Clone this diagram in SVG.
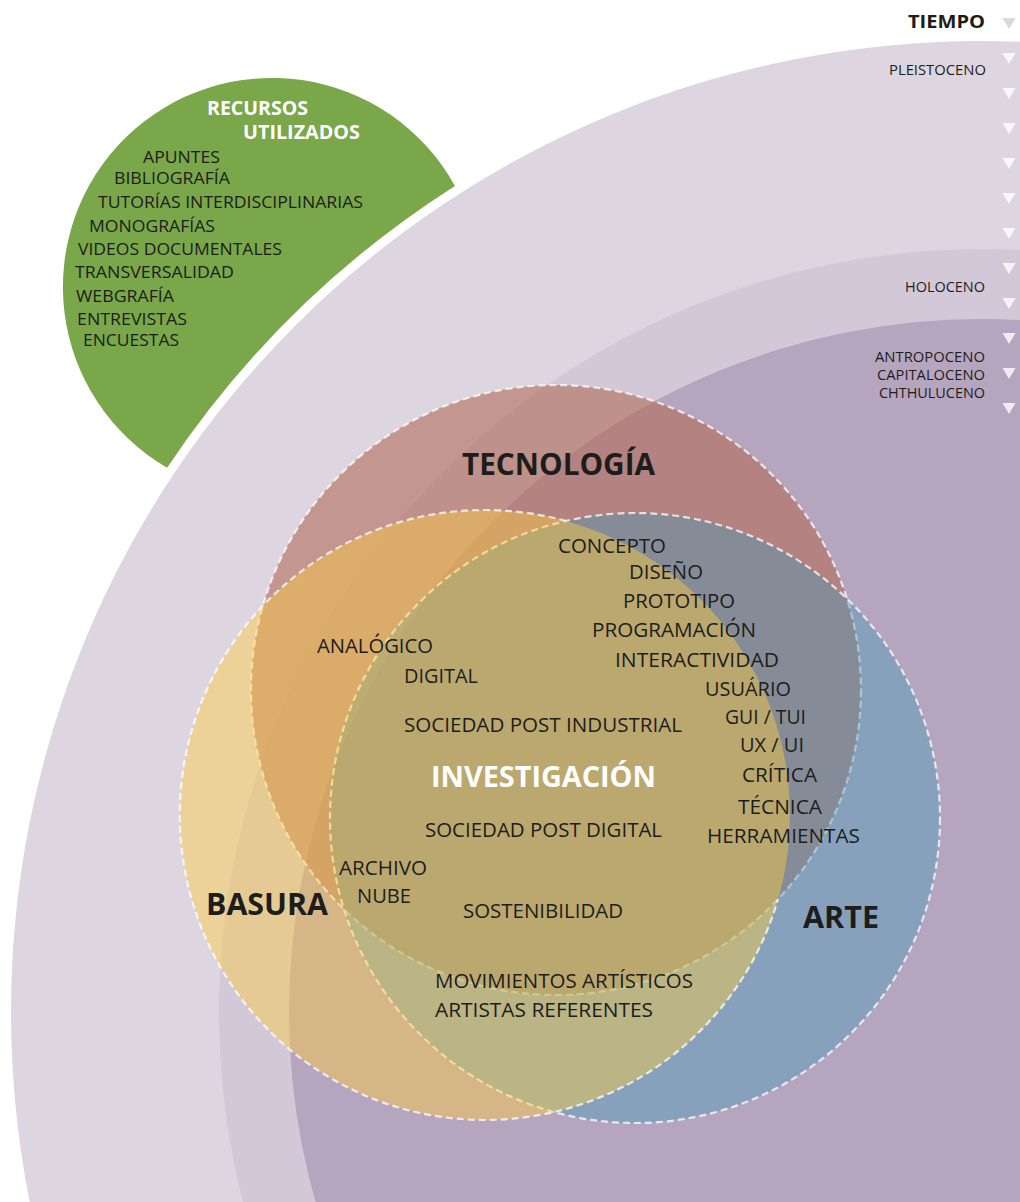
<svg xmlns="http://www.w3.org/2000/svg" width="1020" height="1202" viewBox="0 0 1020 1202">
  <style>
    text { font-family: "Open Sans", "Noto Sans", "Liberation Sans", sans-serif; fill: #1d1d1b; }
    .t { font-size: 19.5px; }
    .g { font-size: 16.5px; }
    .h { font-size: 30px; font-weight: 700; }
    .hw { font-size: 19px; font-weight: 700; fill: #ffffff; }
    .inv { font-size: 29px; font-weight: 700; fill: #ffffff; }
    .era { font-size: 14px; }
    .edge { fill: none; stroke: #ffffff; stroke-opacity: 0.75; stroke-width: 2.2; stroke-dasharray: 7 4; }
    .tri { fill: #ffffff; fill-opacity: 0.8; }
  </style>

  <rect width="1020" height="1202" fill="#ffffff"/>

  <!-- geological time bands, concentric around the lower right -->
  <g id="epochs">
    <circle cx="982" cy="1012" r="971" fill="#ddd6e0"/>
    <circle cx="982" cy="1012" r="763" fill="#d3c8d8"/>
    <circle cx="982" cy="1012" r="693" fill="#b6a5bf"/>
  </g>

  <!-- resources segment, cut by the outer band with a white gap -->
  <g id="recursos">
    <path d="M454.9,185.9 A209,209 0 1 0 167.1,467.7 A980,980 0 0 1 454.9,185.9 Z" fill="#79a74a"/>
    <text class="hw" x="207" y="115" textLength="101" lengthAdjust="spacingAndGlyphs">RECURSOS</text>
    <text class="hw" x="243" y="139" textLength="117" lengthAdjust="spacingAndGlyphs">UTILIZADOS</text>
    <text class="g" x="143" y="163" textLength="77" lengthAdjust="spacingAndGlyphs">APUNTES</text>
    <text class="g" x="114" y="184" textLength="116" lengthAdjust="spacingAndGlyphs">BIBLIOGRAFÍA</text>
    <text class="g" x="98" y="208" textLength="265" lengthAdjust="spacingAndGlyphs">TUTORÍAS INTERDISCIPLINARIAS</text>
    <text class="g" x="89" y="232" textLength="126" lengthAdjust="spacingAndGlyphs">MONOGRAFÍAS</text>
    <text class="g" x="78" y="255" textLength="204" lengthAdjust="spacingAndGlyphs">VIDEOS DOCUMENTALES</text>
    <text class="g" x="75" y="278" textLength="159" lengthAdjust="spacingAndGlyphs">TRANSVERSALIDAD</text>
    <text class="g" x="76" y="302" textLength="98" lengthAdjust="spacingAndGlyphs">WEBGRAFÍA</text>
    <text class="g" x="77" y="325" textLength="110" lengthAdjust="spacingAndGlyphs">ENTREVISTAS</text>
    <text class="g" x="83" y="346" textLength="96" lengthAdjust="spacingAndGlyphs">ENCUESTAS</text>
  </g>

  <g id="tecnologia">
    <circle cx="556" cy="690" r="305" fill="rgb(179,108,88)" fill-opacity="0.6"/>
    <circle class="edge" cx="556" cy="690" r="305"/>
    <text class="h" x="462" y="475" textLength="193" lengthAdjust="spacingAndGlyphs">TECNOLOGÍA</text>
  </g>

  <g id="arte">
    <circle cx="635" cy="818" r="305" fill="rgb(64,154,184)" fill-opacity="0.4"/>
    <circle class="edge" cx="635" cy="818" r="305"/>
    <text class="h" x="803" y="928" textLength="76" lengthAdjust="spacingAndGlyphs">ARTE</text>
  </g>

  <g id="basura">
    <circle cx="485" cy="815" r="305" fill="rgb(254,204,62)" fill-opacity="0.44"/>
    <!-- outline skips the stretch lying inside both other circles -->
    <path class="edge" d="M566,521 A305,305 0 1 0 778,899"/>
    <text class="h" x="206" y="915" textLength="122" lengthAdjust="spacingAndGlyphs">BASURA</text>
  </g>

  <g id="investigacion">
    <text class="inv" x="431" y="787" textLength="225" lengthAdjust="spacingAndGlyphs">INVESTIGACIÓN</text>
    <text class="t" x="558" y="553" textLength="108" lengthAdjust="spacingAndGlyphs">CONCEPTO</text>
    <text class="t" x="629" y="579" textLength="74" lengthAdjust="spacingAndGlyphs">DISEÑO</text>
    <text class="t" x="623" y="608" textLength="112" lengthAdjust="spacingAndGlyphs">PROTOTIPO</text>
    <text class="t" x="592" y="637" textLength="164" lengthAdjust="spacingAndGlyphs">PROGRAMACIÓN</text>
    <text class="t" x="615" y="667" textLength="164" lengthAdjust="spacingAndGlyphs">INTERACTIVIDAD</text>
    <text class="t" x="705" y="696" textLength="86" lengthAdjust="spacingAndGlyphs">USUÁRIO</text>
    <text class="t" x="725" y="724" textLength="81" lengthAdjust="spacingAndGlyphs">GUI / TUI</text>
    <text class="t" x="740" y="752" textLength="64" lengthAdjust="spacingAndGlyphs">UX / UI</text>
    <text class="t" x="742" y="782" textLength="75" lengthAdjust="spacingAndGlyphs">CRÍTICA</text>
    <text class="t" x="738" y="814" textLength="84" lengthAdjust="spacingAndGlyphs">TÉCNICA</text>
    <text class="t" x="707" y="843" textLength="153" lengthAdjust="spacingAndGlyphs">HERRAMIENTAS</text>
    <text class="t" x="317" y="653" textLength="116" lengthAdjust="spacingAndGlyphs">ANALÓGICO</text>
    <text class="t" x="404" y="683" textLength="74" lengthAdjust="spacingAndGlyphs">DIGITAL</text>
    <text class="t" x="404" y="732" textLength="278" lengthAdjust="spacingAndGlyphs">SOCIEDAD POST INDUSTRIAL</text>
    <text class="t" x="425" y="837" textLength="237" lengthAdjust="spacingAndGlyphs">SOCIEDAD POST DIGITAL</text>
    <text class="t" x="339" y="875" textLength="88" lengthAdjust="spacingAndGlyphs">ARCHIVO</text>
    <text class="t" x="357" y="903" textLength="54" lengthAdjust="spacingAndGlyphs">NUBE</text>
    <text class="t" x="463" y="918" textLength="160" lengthAdjust="spacingAndGlyphs">SOSTENIBILIDAD</text>
    <text class="t" x="435" y="988" textLength="258" lengthAdjust="spacingAndGlyphs">MOVIMIENTOS ARTÍSTICOS</text>
    <text class="t" x="435" y="1017" textLength="218" lengthAdjust="spacingAndGlyphs">ARTISTAS REFERENTES</text>
  </g>

  <!-- time scale at the right edge -->
  <g id="tiempo">
    <text x="908" y="28" font-size="18.5" font-weight="700" textLength="77" lengthAdjust="spacingAndGlyphs">TIEMPO</text>
    <polygon points="1002.5,18 1015.5,18 1009,29" fill="#d9d9d9"/>
    <polygon class="tri" points="1002.5,53 1015.5,53 1009,64"/>
    <polygon class="tri" points="1002.5,88 1015.5,88 1009,99"/>
    <polygon class="tri" points="1002.5,123 1015.5,123 1009,134"/>
    <polygon class="tri" points="1002.5,158 1015.5,158 1009,169"/>
    <polygon class="tri" points="1002.5,193 1015.5,193 1009,204"/>
    <polygon class="tri" points="1002.5,228 1015.5,228 1009,239"/>
    <polygon class="tri" points="1002.5,263 1015.5,263 1009,274"/>
    <polygon class="tri" points="1002.5,298 1015.5,298 1009,309"/>
    <polygon class="tri" points="1002.5,333 1015.5,333 1009,344"/>
    <polygon class="tri" points="1002.5,368 1015.5,368 1009,379"/>
    <polygon class="tri" points="1002.5,403 1015.5,403 1009,414"/>
    <text class="era" x="889" y="75" textLength="97" lengthAdjust="spacingAndGlyphs">PLEISTOCENO</text>
    <text class="era" x="905" y="292" textLength="80" lengthAdjust="spacingAndGlyphs">HOLOCENO</text>
    <text class="era" x="875" y="362" textLength="110" lengthAdjust="spacingAndGlyphs">ANTROPOCENO</text>
    <text class="era" x="877" y="380" textLength="108" lengthAdjust="spacingAndGlyphs">CAPITALOCENO</text>
    <text class="era" x="879" y="398" textLength="106" lengthAdjust="spacingAndGlyphs">CHTHULUCENO</text>
  </g>
</svg>
